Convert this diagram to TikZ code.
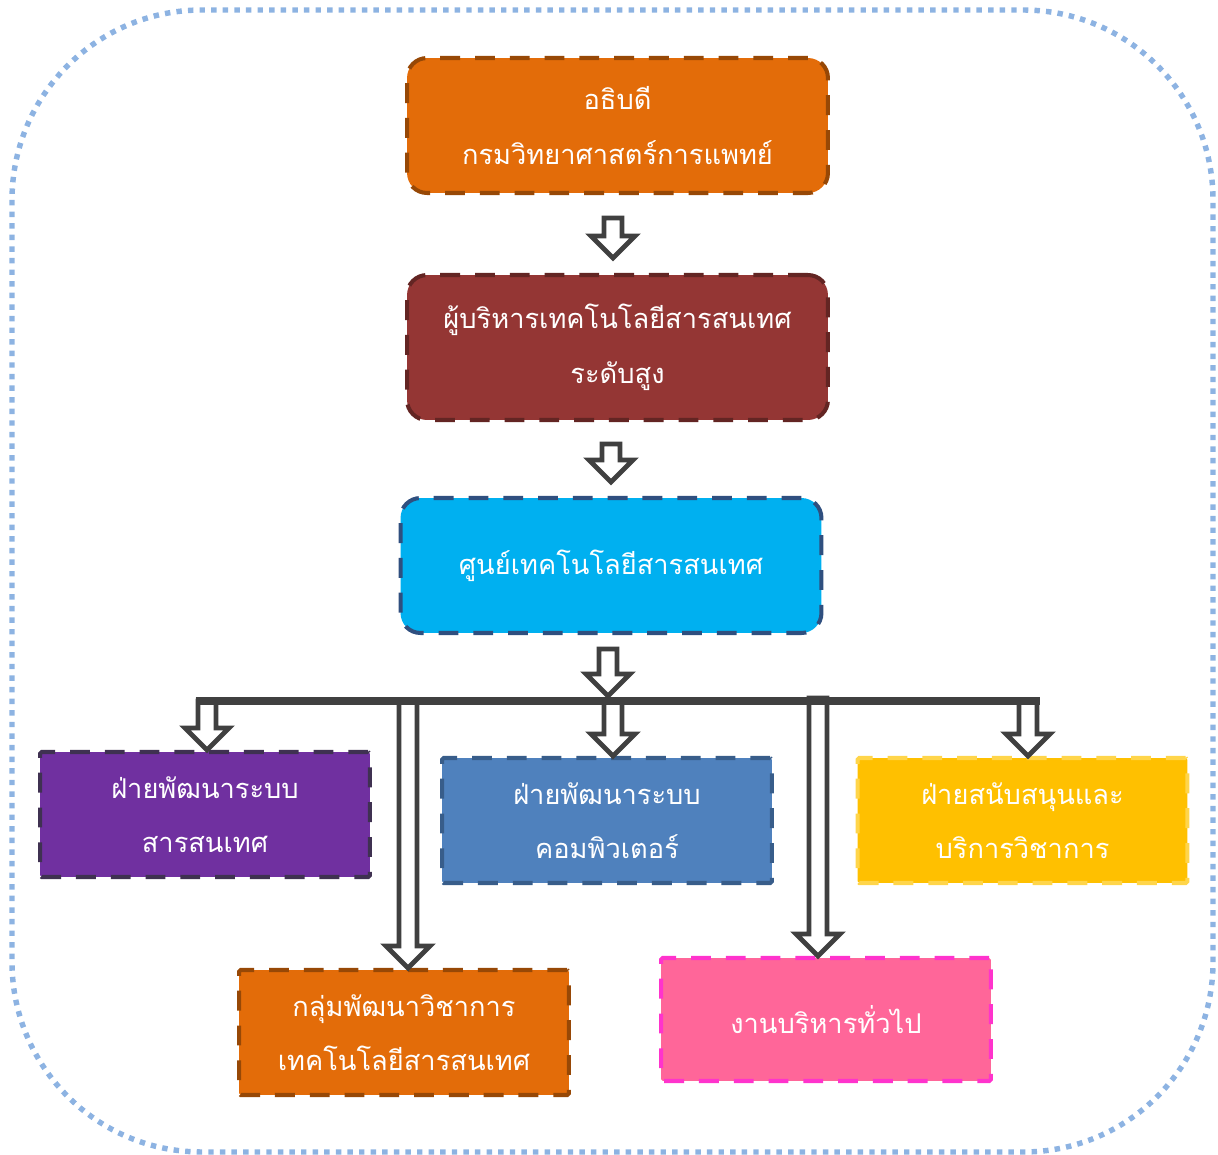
\documentclass[tikz,border=0pt]{standalone}
\usepackage{fontspec}
\newfontfamily\thaifont[Script=Thai]{Loma}
\usetikzlibrary{calc,shadows}

\definecolor{orangefill}{HTML}{E36C09}
\definecolor{orangeline}{HTML}{974806}
\definecolor{redfill}{HTML}{943634}
\definecolor{redline}{HTML}{632523}
\definecolor{cyanfill}{HTML}{00B0F0}
\definecolor{cyanline}{HTML}{2F4F7F}
\definecolor{purplefill}{HTML}{7030A0}
\definecolor{purpleline}{HTML}{3F3151}
\definecolor{bluefill}{HTML}{4F81BD}
\definecolor{blueline}{HTML}{385D8A}
\definecolor{yellowfill}{HTML}{FFC000}
\definecolor{yellowline}{HTML}{FFD54A}
\definecolor{pinkfill}{HTML}{FF6699}
\definecolor{pinkline}{HTML}{FF33CC}
\definecolor{arrowgray}{HTML}{404040}
\definecolor{framecolor}{HTML}{8DB3E2}

\tikzset{
  box/.style={text=white, font=\thaifont\fontsize{15.5}{31}\selectfont, align=center,
    inner sep=0pt, line width=2.3pt, dash pattern=on 11.3pt off 8.5pt},
  topbox/.style={box, rounded corners=0.4cm, minimum width=8.42cm, minimum height=2.7cm},
  unitbox/.style={box, rounded corners=1pt, minimum width=6.6cm, minimum height=2.5cm},
  blockarr/.style={draw=arrowgray, fill=white, line width=2.8pt, line join=miter,
    drop shadow={shadow xshift=0.8pt, shadow yshift=-1pt, opacity=0.25}},
  hbar/.style={draw=arrowgray, line width=4.5pt},
  outerframe/.style={draw=framecolor, line width=3.1pt, dash pattern=on 3.1pt off 3.5pt,
    rounded corners=3.8cm}
}

% hollow down arrow: shaft top (#1), tip level (#2)
\def\hollowarrow(#1)(#2){\draw[blockarr] ($(#1)+(-9,0)$) -- ($(#1 |- #2)+(-9,-22)$)
  -- ($(#1 |- #2)+(-22,-22)$) -- (#1 |- #2) -- ($(#1 |- #2)+(22,-22)$)
  -- ($(#1 |- #2)+(9,-22)$) -- ($(#1)+(9,0)$) -- cycle;}

\begin{document}
\begin{tikzpicture}[x=0.02cm, y=-0.02cm]
			%%%%% START %%%%%
			\useasboundingbox (0,0) rectangle (1218,1155);
			\draw[outerframe] (12,10) rectangle (1213,1152);
			
			% top three levels
			\node[topbox, fill=orangefill, draw=orangeline] (dir) at (617.5,125.5) {อธิบดี\\กรมวิทยาศาสตร์การแพทย์};
			\node[topbox, fill=redfill, draw=redline, minimum height=2.9cm] (cio) at (617.5,347.5) {ผู้บริหารเทคโนโลยีสารสนเทศ\\ระดับสูง};
			\node[topbox, fill=cyanfill, draw=cyanline] (ict) at (611,565.5) {ศูนย์เทคโนโลยีสารสนเทศ};
			
			% units
			\node[unitbox, fill=purplefill, draw=purpleline] (infsys) at (205,814.5) {ฝ่ายพัฒนาระบบ\\สารสนเทศ};
			\node[unitbox, fill=bluefill, draw=blueline] (compsys) at (607,820.5) {ฝ่ายพัฒนาระบบ\\คอมพิวเตอร์};
			\node[unitbox, fill=yellowfill, draw=yellowline] (support) at (1022.5,820.5) {ฝ่ายสนับสนุนและ\\บริการวิชาการ};
			\node[unitbox, fill=orangefill, draw=orangeline] (acad) at (404,1032.5) {กลุ่มพัฒนาวิชาการ\\เทคโนโลยีสารสนเทศ};
			\node[unitbox, fill=pinkfill, draw=pinkline, minimum height=2.46cm] (admin) at (826,1019.5) {งานบริหารทั่วไป};
			
			% arrows between the top levels
			\coordinate (a1) at ($(dir.south)+(-4.5,23)$);
			\coordinate (a1e) at ($(cio.north)+(0,-15)$);
			\hollowarrow(a1)(a1e)
			\coordinate (a2) at ($(cio.south)+(-6.5,22)$);
			\coordinate (a2e) at ($(ict.north)+(0,-14)$);
			\hollowarrow(a2)(a2e)
			\coordinate (a3) at ($(ict.south)+(-3,14)$);
			\coordinate (a3e) at ($(ict.south)+(0,61)$);
			\hollowarrow(a3)(a3e)
			
			% branches
			\coordinate (b1) at (207,701);
			\coordinate (b2) at (408,701);
			\coordinate (b3) at (613,701);
			\coordinate (b4) at (818,698);
			\coordinate (b5) at (1028,701);
			\hollowarrow(b1)(infsys.north)
			\hollowarrow(b2)(acad.north)
			\hollowarrow(b3)(compsys.north)
			\hollowarrow(b4)(admin.north)
			\hollowarrow(b5)(support.north)
			\draw[hbar] ($(b1)+(-11.5,0)$) -- ($(b5)+(11.5,0)$);
			
			%%%%% END %%%%%
\end{tikzpicture}
\end{document}
